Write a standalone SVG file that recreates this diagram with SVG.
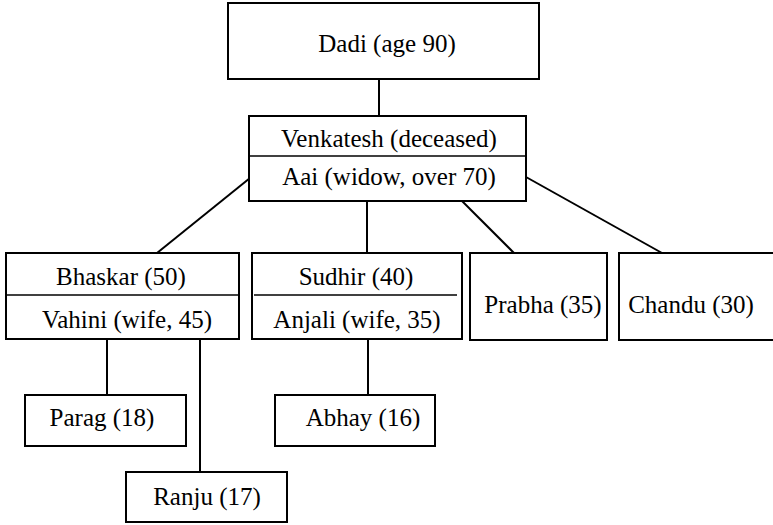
<svg xmlns="http://www.w3.org/2000/svg" width="773" height="525" viewBox="0 0 773 525" font-family="Liberation Serif, Times New Roman, Times, serif">
<style>
.box{fill:#fff;stroke:#000;stroke-width:2}
.div{stroke:#000;stroke-width:1.3}
.con line{stroke:#000;stroke-width:2}
text{font-size:25px;fill:#000;text-anchor:middle}
</style>
<rect width="773" height="525" fill="#fff"/>
<g id="connectors" class="con">
<line x1="379" y1="79" x2="379" y2="116"/>
<line x1="250" y1="178" x2="157" y2="253"/>
<line x1="367" y1="201" x2="367" y2="253"/>
<line x1="462" y1="201" x2="514" y2="253"/>
<line x1="526" y1="177" x2="662" y2="253"/>
<line x1="107" y1="339" x2="107" y2="395"/>
<line x1="200" y1="339" x2="200" y2="472"/>
<line x1="368" y1="339" x2="368" y2="395"/>
</g>
<g id="dadi">
<rect class="box" x="228" y="3" width="311" height="76"/>
<text x="387" y="52">Dadi (age 90)</text>
</g>
<g id="venkatesh">
<rect class="box" x="249" y="116" width="277" height="85"/>
<line class="div" x1="249" y1="156" x2="526" y2="156"/>
<text x="389" y="147">Venkatesh (deceased)</text>
<text x="389" y="185">Aai (widow, over 70)</text>
</g>
<g id="bhaskar">
<rect class="box" x="6" y="253" width="233" height="86"/>
<line class="div" x1="6" y1="295" x2="239" y2="295"/>
<text x="121" y="285">Bhaskar (50)</text>
<text x="127" y="328">Vahini (wife, 45)</text>
</g>
<g id="sudhir">
<rect class="box" x="252" y="253" width="210" height="86"/>
<line class="div" x1="254" y1="295" x2="457" y2="295"/>
<text x="356" y="285">Sudhir (40)</text>
<text x="357" y="328">Anjali (wife, 35)</text>
</g>
<g id="prabha">
<rect class="box" x="470" y="253" width="137" height="87"/>
<text x="543" y="313">Prabha (35)</text>
</g>
<g id="chandu">
<rect class="box" x="619" y="253" width="160" height="87"/>
<text x="691" y="313">Chandu (30)</text>
</g>
<g id="parag">
<rect class="box" x="25" y="395" width="161" height="51"/>
<text x="102" y="426">Parag (18)</text>
</g>
<g id="abhay">
<rect class="box" x="275" y="395" width="160" height="51"/>
<text x="363" y="426">Abhay (16)</text>
</g>
<g id="ranju">
<rect class="box" x="126" y="472" width="161" height="50"/>
<text x="207" y="505">Ranju (17)</text>
</g>
</svg>
